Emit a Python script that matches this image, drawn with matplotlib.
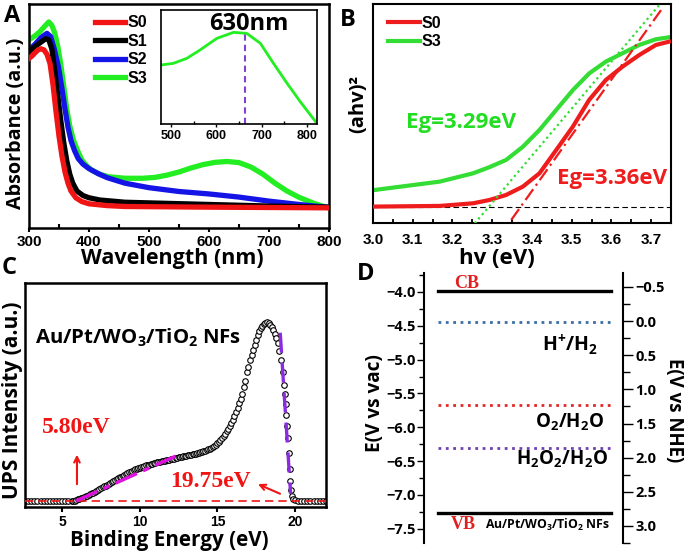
import matplotlib
matplotlib.use("Agg")
import matplotlib.pyplot as plt
from matplotlib.ticker import MultipleLocator, NullLocator

plt.rcParams['font.family'] = 'Liberation Sans'
plt.rcParams['font.weight'] = 'bold'
plt.rcParams['mathtext.fontset'] = 'custom'
plt.rcParams['mathtext.rm'] = 'Open Sans'
plt.rcParams['mathtext.bf'] = 'Open Sans:bold'
plt.rcParams['mathtext.it'] = 'Open Sans:italic'

# ---- panel A : UV-vis absorbance (values as fraction of axis height)
wl_s0 = [300, 305, 310, 315, 320, 325, 330, 335, 340, 345, 350, 355, 360, 365, 370, 378, 388, 400, 430, 460, 600, 800]
ab_s0 = [0.757, 0.768, 0.782, 0.795, 0.80, 0.795, 0.775, 0.735, 0.64, 0.52, 0.41, 0.32, 0.25, 0.20, 0.165, 0.135,
         0.118, 0.108, 0.10, 0.096, 0.093, 0.09]
wl_s1 = [300, 310, 320, 328, 333, 338, 343, 348, 353, 358, 363, 368, 373, 380, 390, 400, 418, 460, 530, 700, 800]
ab_s1 = [0.787, 0.81, 0.83, 0.845, 0.84, 0.80, 0.70, 0.59, 0.48, 0.38, 0.30, 0.24, 0.20, 0.165, 0.145, 0.135,
         0.125, 0.115, 0.11, 0.098, 0.093]
wl_s2 = [300, 310, 320, 330, 336, 342, 349, 355, 360, 365, 370, 376, 382, 390, 400, 415, 430, 460, 500, 550,
         600, 650, 700, 750, 800]
ab_s2 = [0.795, 0.82, 0.85, 0.869, 0.855, 0.80, 0.72, 0.62, 0.53, 0.45, 0.39, 0.345, 0.31, 0.285, 0.265, 0.243,
         0.225, 0.20, 0.18, 0.163, 0.152, 0.138, 0.12, 0.105, 0.092]
wl_s3 = [300, 310, 318, 326, 333, 338, 343, 348, 353, 358, 363, 368, 374, 381, 388, 396, 404, 418, 432, 460,
         490, 510, 530, 550, 570, 590, 610, 630, 650, 670, 690, 710, 730, 750, 775, 800]
ab_s3 = [0.84, 0.858, 0.876, 0.90, 0.92, 0.905, 0.87, 0.81, 0.73, 0.63, 0.53, 0.455, 0.393, 0.345, 0.304, 0.278,
         0.259, 0.24, 0.229, 0.222, 0.222, 0.226, 0.236, 0.25, 0.268, 0.283, 0.293, 0.297, 0.292, 0.272, 0.24,
         0.20, 0.165, 0.137, 0.11, 0.089]

# inset (S3 zoom)
wl_in = [479, 505, 535, 564, 601, 638, 667, 697, 726, 756, 785, 819]
ab_in = [0.518, 0.532, 0.576, 0.649, 0.751, 0.804, 0.795, 0.708, 0.532, 0.357, 0.196, 0.02]
peak_in = 664

# ---- panel B : Tauc plot
hv_b = [3.005, 3.168, 3.252, 3.293, 3.335, 3.377, 3.419, 3.461, 3.503, 3.544, 3.586, 3.628, 3.67, 3.712, 3.745]
tauc_s0 = [0.075, 0.078, 0.09, 0.105, 0.128, 0.166, 0.227, 0.333, 0.44, 0.562, 0.653, 0.714, 0.767, 0.813, 0.828]
tauc_s3 = [0.151, 0.189, 0.227, 0.255, 0.288, 0.348, 0.425, 0.516, 0.607, 0.683, 0.737, 0.775, 0.813, 0.839, 0.848]
fit_s3_x = [3.256, 3.724]
fit_s3_y = [-0.002, 1.003]
fit_s0_x = [3.348, 3.728]
fit_s0_y = [0.014, 0.98]
base_b = 0.072

# ---- panel C : UPS spectrum (normalised to the peak)
be = [2.6, 2.8, 3.0, 3.2, 3.4, 3.6, 3.8, 4.0, 4.2, 4.4,
      4.6, 4.8, 5.0, 5.2, 5.4, 5.6,
      5.7, 5.8, 5.9, 6.0, 6.1, 6.2, 6.3, 6.4, 6.5, 6.6,
      6.7, 6.8, 6.9, 7.0, 7.1, 7.2, 7.3, 7.4, 7.5, 7.6,
      7.7, 7.8, 7.9, 8.0, 8.1, 8.2, 8.3, 8.4, 8.5, 8.6,
      8.7, 8.8, 8.9, 9.0, 9.1, 9.2, 9.3, 9.4, 9.5, 9.6,
      9.7, 9.8, 9.9, 10.0, 10.1, 10.2, 10.3, 10.4, 10.5, 10.6,
      10.7, 10.8, 10.9, 11.0, 11.1, 11.2, 11.3, 11.4, 11.5, 11.6,
      11.7, 11.8, 11.9, 12.0, 12.1, 12.2, 12.3, 12.4, 12.5, 12.6,
      12.7, 12.8, 12.9, 13.0, 13.1, 13.2, 13.3, 13.4, 13.5, 13.6,
      13.7, 13.8, 13.9, 14.0, 14.1, 14.2, 14.3, 14.4, 14.5, 14.6,
      14.7, 14.8, 14.9, 15.0, 15.1, 15.2, 15.3, 15.4, 15.5, 15.6,
      15.7, 15.8, 15.9, 16.0, 16.1, 16.2, 16.3, 16.4, 16.5, 16.6,
      16.7, 16.8, 16.9, 17.0, 17.1, 17.2, 17.3, 17.4, 17.5, 17.6,
      17.7, 17.8, 17.9, 18.0, 18.1, 18.2, 18.3, 18.4, 18.5, 18.6,
      18.7, 18.8,
      18.9, 19.0, 19.1, 19.2, 19.3, 19.35, 19.4, 19.45, 19.5, 19.55,
      19.6, 19.65, 19.7, 19.75, 19.8, 19.9, 20.0,
      20.2, 20.4, 20.6, 20.8, 21.0, 21.2, 21.4, 21.6, 21.8, 22.0]
ups = [0.0, 0.0, 0.0, 0.0, 0.0, 0.0, 0.0, 0.0, 0.0, 0.0,
       0.0, 0.0, 0.0, 0.0, 0.0, 0.0,
       0.0, 0.002, 0.005, 0.008, 0.011, 0.015, 0.018, 0.022, 0.026, 0.03,
       0.034, 0.038, 0.042, 0.047, 0.051, 0.056, 0.061, 0.066, 0.071, 0.076,
       0.081, 0.086, 0.091, 0.096, 0.101, 0.106, 0.111, 0.116, 0.121, 0.126,
       0.131, 0.136, 0.141, 0.146, 0.15, 0.155, 0.16, 0.164, 0.168, 0.172,
       0.176, 0.179, 0.183, 0.186, 0.189, 0.192, 0.195, 0.198, 0.2, 0.203,
       0.206, 0.208, 0.21, 0.212, 0.215, 0.217, 0.219, 0.221, 0.223, 0.225,
       0.227, 0.229, 0.231, 0.233, 0.235, 0.237, 0.239, 0.241, 0.243, 0.245,
       0.247, 0.249, 0.251, 0.253, 0.255, 0.257, 0.259, 0.261, 0.263, 0.265,
       0.267, 0.27, 0.272, 0.275, 0.278, 0.281, 0.284, 0.288, 0.292, 0.297,
       0.302, 0.308, 0.315, 0.322, 0.33, 0.34, 0.35, 0.362, 0.375, 0.388,
       0.402, 0.418, 0.434, 0.455, 0.475, 0.497, 0.52, 0.545, 0.572, 0.6,
       0.635, 0.67, 0.72, 0.75, 0.785, 0.815, 0.845, 0.872, 0.9, 0.925,
       0.947, 0.965, 0.979, 0.99, 0.997, 1.0, 0.995, 0.985, 0.972, 0.955,
       0.934, 0.91,
       0.88, 0.84, 0.79, 0.72, 0.65, 0.6, 0.54, 0.48, 0.42, 0.35,
       0.27, 0.18, 0.11, 0.06, 0.03, 0.01, 0.003,
       0.0, 0.0, 0.0, 0.0, 0.0, 0.0, 0.0, 0.0, 0.0, 0.0]
fit_lo_x = [5.9, 12.3]
fit_lo_y = [0.0, 0.25]
fit_hi_x = [19.05, 19.72]
fit_hi_y = [0.94, 0.04]

# ---- panel D : band positions (V vs vacuum)
levels = [-3.98, -4.44, -5.67, -6.30, -7.27]
level_styles = [('black', '-', 2.4), ('#3a6ea5', ':', 2.0), ('#e02828', ':', 2.0),
                ('#7040b0', ':', 2.0), ('black', '-', 2.4)]

W, H = 685, 552


def rect(l, t, r, b):
    return [l / W, 1 - b / H, (r - l) / W, (b - t) / H]


fig = plt.figure(figsize=(6.85, 5.52), dpi=100)
labfont = dict(family='Open Sans', weight='bold')

# ================= A
ax = fig.add_axes(rect(29, 4, 329, 228))
ax.plot(wl_s0, ab_s0, color='#f01414', lw=3.8, label='S0', zorder=4)
ax.plot(wl_s1, ab_s1, color='black', lw=3.8, label='S1', zorder=3)
ax.plot(wl_s2, ab_s2, color='#1414e6', lw=3.8, label='S2', zorder=2)
ax.plot(wl_s3, ab_s3, color='#22ee22', lw=3.8, label='S3', zorder=1)
ax.set_xlim(300, 800)
ax.set_ylim(0, 1)
ax.yaxis.set_major_locator(NullLocator())
ax.xaxis.set_major_locator(MultipleLocator(100))
ax.xaxis.set_minor_locator(MultipleLocator(50))
ax.tick_params(axis='x', which='major', direction='out', length=3, width=1.5, pad=2, labelsize=11)
ax.tick_params(axis='x', which='minor', direction='in', length=3, width=1.5)
for s in ax.spines.values():
    s.set_linewidth(1.8)
ax.legend(loc='upper left', bbox_to_anchor=(0.22, 0.95), frameon=False, borderpad=0,
          borderaxespad=0, handlelength=1.9, handletextpad=0.15, labelspacing=0.22,
          prop=dict(size=11.5, weight='bold'))
ax.text(0.477, -0.134, 'Wavelength (nm)', transform=ax.transAxes, ha='center', va='center',
        fontsize=15.5, **labfont)
ax.text(-0.043, 0.469, 'Absorbance (a.u.)', transform=ax.transAxes, ha='center', va='center',
        rotation=90, fontsize=14.2, **labfont)

# inset
axi = fig.add_axes(rect(161, 10, 317, 124))
axi.plot(wl_in, ab_in, color='#22ee22', lw=2)
axi.plot([peak_in, peak_in], [0, 0.80], color='#8040d0', lw=1.5, ls=(0, (3, 2)))
axi.set_xlim(478, 822)
axi.set_ylim(0, 1)
axi.yaxis.set_major_locator(NullLocator())
axi.set_xticks([500, 600, 700, 800])
axi.xaxis.set_minor_locator(MultipleLocator(50))
axi.tick_params(axis='x', which='major', direction='out', length=2.5, width=1, pad=1.5, labelsize=9)
axi.tick_params(axis='x', which='minor', direction='in', length=2, width=1)
for s in axi.spines.values():
    s.set_linewidth(1.2)
axi.text(0.56, 0.88, '630nm', transform=axi.transAxes, ha='center', va='center',
         fontsize=17, **labfont)

# ================= B
bx = fig.add_axes(rect(373, 4, 671, 223))
bx.plot(hv_b, tauc_s0, color='#ee1c1c', lw=3, label='S0', zorder=3)
bx.plot(hv_b, tauc_s3, color='#33dd33', lw=3, label='S3', zorder=2)
bx.plot(fit_s3_x, fit_s3_y, color='#33dd33', lw=1.6, ls=(0, (1, 1.5)), zorder=4)
bx.plot(fit_s0_x, fit_s0_y, color='#ee1c1c', lw=1.6, ls=(0, (6, 2, 1, 2)), zorder=4)
bx.axhline(base_b, color='black', lw=0.8, ls=(0, (5, 3)), zorder=1)
bx.set_xlim(3.0, 3.75)
bx.set_ylim(0, 1)
bx.yaxis.set_major_locator(NullLocator())
bx.xaxis.set_major_locator(MultipleLocator(0.1))
bx.xaxis.set_minor_locator(MultipleLocator(0.05))
bx.tick_params(axis='x', which='both', direction='in', length=3, width=1.3, pad=7, labelsize=11)
bx.xaxis.set_major_formatter('{x:.1f}')
for s in bx.spines.values():
    s.set_linewidth(1.5)
bx.legend(loc='upper left', bbox_to_anchor=(0.05, 0.945), frameon=False, borderpad=0,
          borderaxespad=0, handlelength=2.0, handletextpad=0.1, labelspacing=0.2,
          prop=dict(size=11.5, weight='bold'))
bx.text(0.295, 0.457, 'Eg=3.29eV', transform=bx.transAxes, ha='center', va='center',
        fontsize=16, color='#22dd22', **labfont)
bx.text(0.802, 0.205, 'Eg=3.36eV', transform=bx.transAxes, ha='center', va='center',
        fontsize=16, color='#ee1c1c', **labfont)
bx.text(0.416, -0.16, 'hv (eV)', transform=bx.transAxes, ha='center', va='center',
        fontsize=16, **labfont)
bx.text(-0.05, 0.543, '(ahv)²', transform=bx.transAxes, ha='center', va='center',
        rotation=90, fontsize=14.5, **labfont)

# ================= C
cx = fig.add_axes(rect(25, 283, 326, 507))
cx.plot(be, ups, ls='none', marker='o', ms=4, mfc='white', mec='black', mew=0.8, zorder=2)
cx.plot([2.6, 22.0], [0, 0], color='#f01414', lw=1.2, ls=(0, (5, 3)), zorder=3)
cx.plot(fit_lo_x, fit_lo_y, color='#e010e0', lw=2.4, ls=(0, (7, 2, 2, 2)), zorder=4)
cx.plot(fit_hi_x, fit_hi_y, color='#8a2be2', lw=2.4, ls=(0, (6, 3)), zorder=4)
cx.set_xlim(2.6, 22.0)
cx.set_ylim(-0.034, 1.218)
cx.yaxis.set_major_locator(NullLocator())
cx.set_xticks([5, 10, 15, 20])
cx.tick_params(axis='x', which='major', direction='out', length=3.5, width=1.5, pad=2.5, labelsize=10)
for s in cx.spines.values():
    s.set_linewidth(1.8)
cx.annotate('', xy=(5.95, 0.274), xytext=(5.95, 0.078),
            arrowprops=dict(arrowstyle='->', color='#f01414', lw=1.5))
cx.annotate('', xy=(17.45, 0.10), xytext=(19.2, 0.034),
            arrowprops=dict(arrowstyle='->', color='#f01414', lw=1.5))
cx.text(5.9, 0.413, '5.80eV', ha='center', va='center', fontsize=17, color='#f01414',
        family='Liberation Serif', weight='bold')
cx.text(14.55, 0.106, '19.75eV', ha='center', va='center', fontsize=17, color='#f01414',
        family='Liberation Serif', weight='bold')
cx.text(3.26, 0.91, r'Au/Pt/WO$_\mathbf{3}$/TiO$_\mathbf{2}$ NFs', ha='left', va='center',
        fontsize=14.7, **labfont)
cx.text(0.478, -0.15, 'Binding Energy (eV)', transform=cx.transAxes, ha='center', va='center',
        fontsize=14.9, **labfont)
cx.text(-0.04, 0.478, 'UPS Intensity (a.u.)', transform=cx.transAxes, ha='center', va='center',
        rotation=90, fontsize=15, **labfont)

# ================= D
dfont = dict(family='Open Sans', weight='bold')
dx = fig.add_axes(rect(424, 273, 623, 543))
for lv, (col, ls, lw) in zip(levels, level_styles):
    dx.plot([0.07, 0.94], [lv, lv], color=col, ls=ls, lw=lw)
dx.set_xlim(0, 1)
dx.set_ylim(-7.71, -3.72)
dx.xaxis.set_major_locator(NullLocator())
dx.yaxis.set_major_locator(MultipleLocator(0.5))
dx.yaxis.set_minor_locator(MultipleLocator(0.25))
dx.yaxis.set_major_formatter('{x:.1f}')
for k in ['top', 'bottom', 'right']:
    dx.spines[k].set_visible(False)
dx.spines['left'].set_linewidth(1.5)
dx.tick_params(axis='y', which='major', direction='out', length=5, width=1, pad=1)
dx.tick_params(axis='y', which='minor', direction='out', length=3.5, width=1)
for lab in dx.get_yticklabels():
    lab.set_fontproperties(matplotlib.font_manager.FontProperties(size=10.5, **dfont))
dx2 = dx.twinx()
dx2.set_ylim(3.25, -0.705)
dx2.yaxis.set_major_locator(MultipleLocator(0.5))
dx2.yaxis.set_minor_locator(MultipleLocator(0.25))
dx2.yaxis.set_major_formatter('{x:.1f}')
for k in ['top', 'bottom', 'left']:
    dx2.spines[k].set_visible(False)
dx2.spines['right'].set_linewidth(1.5)
dx2.tick_params(axis='y', which='major', direction='out', length=7, width=1, pad=2)
dx2.tick_params(axis='y', which='minor', direction='out', length=5, width=1)
for lab in dx2.get_yticklabels():
    lab.set_fontproperties(matplotlib.font_manager.FontProperties(size=10.5, **dfont))

dx.text(0.216, -3.87, 'CB', ha='center', va='center', fontsize=13, color='#e02020',
        family='Liberation Serif', weight='bold')
dx.text(0.196, -7.44, 'VB', ha='center', va='center', fontsize=13, color='#e02020',
        family='Liberation Serif', weight='bold')
dx.text(0.307, -7.44, r'Au/Pt/WO$_\mathbf{3}$/TiO$_\mathbf{2}$ NFs', ha='left', va='center',
        fontsize=8.8, **dfont)
dx.text(0.734, -4.78, r'H$^\mathbf{+}$/H$_\mathbf{2}$', ha='center', va='center', fontsize=14, **dfont)
dx.text(0.734, -5.92, r'O$_\mathbf{2}$/H$_\mathbf{2}$O', ha='center', va='center', fontsize=13.5, **dfont)
dx.text(0.694, -6.48, r'H$_\mathbf{2}$O$_\mathbf{2}$/H$_\mathbf{2}$O', ha='center', va='center',
        fontsize=13.5, **dfont)
dx.text(-0.246, 0.519, 'E(V vs vac)', transform=dx.transAxes, ha='center', va='center',
        rotation=90, fontsize=13.7, **labfont)
dx.text(1.256, 0.493, 'E(V vs NHE)', transform=dx.transAxes, ha='center', va='center',
        rotation=270, fontsize=13.4, **labfont)

# panel letters
for letter, (px, py) in zip('ABCD', [(12, 16), (348, 20), (9, 268), (366, 274)]):
    fig.text(px / W, 1 - py / H, letter, ha='center', va='center', fontsize=17, **labfont)

fig.savefig('out.png', dpi=100)
plt.close(fig)
